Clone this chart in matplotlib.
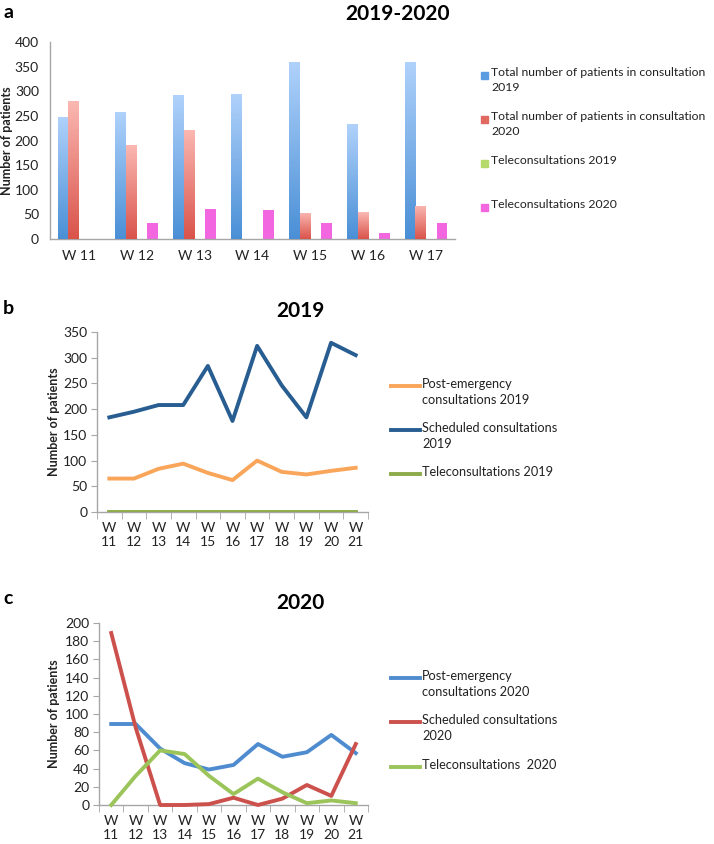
import numpy as np
import matplotlib
matplotlib.use("Agg")
import matplotlib.pyplot as plt
from matplotlib.colors import LinearSegmentedColormap
from matplotlib.patches import Rectangle
from matplotlib.lines import Line2D

plt.rcParams['font.family'] = ['Lato', 'DejaVu Sans']

# ---- data ----
weeks_a = ['W 11', 'W 12', 'W 13', 'W 14', 'W 15', 'W 16', 'W 17']
total_2019 = [248, 258, 292, 294, 360, 233, 360]
total_2020 = [280, 190, 222, 0, 53, 54, 68]
tele_2019_a = [0, 0, 0, 0, 0, 0, 0]
tele_2020_a = [0, 33, 61, 58, 33, 13, 33]

weeks_bc = ['W\n11', 'W\n12', 'W\n13', 'W\n14', 'W\n15', 'W\n16',
            'W\n17', 'W\n18', 'W\n19', 'W\n20', 'W\n21']
post_2019 = [65, 65, 84, 94, 76, 62, 100, 78, 73, 80, 86]
sched_2019 = [184, 195, 208, 208, 284, 177, 323, 246, 184, 329, 305]
tele_2019 = [0, 0, 0, 0, 0, 0, 0, 0, 0, 0, 0]

post_2020 = [89, 89, 62, 46, 39, 44, 67, 53, 58, 77, 57]
sched_2020 = [189, 85, 0, 0, 1, 8, 0, 7, 22, 10, 67]
tele_2020 = [0, 32, 60, 56, 32, 12, 29, 14, 2, 5, 2]

W, H = 714, 844
fig = plt.figure(figsize=(W / 100, H / 100), dpi=100)
spine_col = '#a6a6a6'
txt_col = '#222222'


def fx(px):
    return px / W


def fy(py):
    return 1 - py / H


def style_axes(ax):
    for s in ['top', 'right']:
        ax.spines[s].set_visible(False)
    for s in ['left', 'bottom']:
        ax.spines[s].set_color(spine_col)
        ax.spines[s].set_linewidth(1.0)
    ax.tick_params(colors=spine_col, labelcolor=txt_col, labelsize=10)


def grad_bars(ax, bars, c_bottom, c_top):
    cmap = LinearSegmentedColormap.from_list('g', [c_bottom, c_top])
    grad = np.linspace(0, 1, 256).reshape(-1, 1)
    for b in bars:
        h = b.get_height()
        if h <= 0:
            continue
        x0 = b.get_x()
        im = ax.imshow(grad, cmap=cmap, origin='lower', aspect='auto',
                       extent=[x0, x0 + b.get_width(), 0, h], zorder=3)
        im.set_clip_path(b)


# ---- panel a ----
ax1 = fig.add_axes([fx(50), fy(239), fx(455) - fx(50), fy(42) - fy(239)])
x = np.arange(len(weeks_a))
w = 0.185
b1 = ax1.bar(x - 1.5 * w, total_2019, w, color='#6fa8e6', zorder=2)
b2 = ax1.bar(x - 0.5 * w, total_2020, w, color='#ea8a82', zorder=2)
ax1.bar(x + 0.5 * w, tele_2019_a, w, color='#b5d96a', zorder=2)
ax1.bar(x + 1.5 * w, tele_2020_a, w, color='#f266e0', zorder=2)
grad_bars(ax1, b1, '#4a8fd6', '#b0d2fb')
grad_bars(ax1, b2, '#d9534a', '#fbb8b2')
ax1.set_xlim(-0.5, len(weeks_a) - 0.5)
ax1.set_ylim(0, 400)
ax1.set_yticks(range(0, 401, 50))
ax1.set_xticks(x)
ax1.set_xticklabels(weeks_a)
style_axes(ax1)
ax1.tick_params(axis='both', length=0, pad=8)
ax1.set_ylabel('Number of patients', fontsize=9, fontweight='bold', color=txt_col)
ax1.yaxis.set_label_coords(fx(13), 0.5 * (fy(239) + fy(42)), transform=fig.transFigure)

# ---- panel b ----
xb = np.arange(len(weeks_bc))
ax2 = fig.add_axes([fx(97), fy(512), fx(368) - fx(97), fy(332) - fy(512)])
ax2.plot(xb, post_2019, color='#f9a55a', lw=2.8, zorder=3)
ax2.plot(xb, sched_2019, color='#285d91', lw=2.8, zorder=3)
ax2.plot(xb, tele_2019, color='#8dab4b', lw=2.8, zorder=3)
ax2.set_ylim(0, 350)
ax2.set_yticks(range(0, 351, 50))

# ---- panel c ----
ax3 = fig.add_axes([fx(99), fy(805), fx(368) - fx(99), fy(623) - fy(805)])
ax3.plot(xb, post_2020, color='#4f8ccf', lw=2.8, zorder=3)
ax3.plot(xb, sched_2020, color='#cc514c', lw=2.8, zorder=3, clip_on=False)
ax3.plot(xb, tele_2020, color='#9bc45a', lw=2.8, zorder=3, clip_on=False)
ax3.set_ylim(0, 200)
ax3.set_yticks(range(0, 201, 20))

for ax, top, bot in ((ax2, 332, 512), (ax3, 623, 805)):
    ax.set_xlim(-0.5, len(weeks_bc) - 0.5)
    ax.set_xticks(xb)
    ax.set_xticklabels(weeks_bc, linespacing=1.2)
    ax.set_xticks(np.arange(-0.5, len(weeks_bc)), minor=True)
    style_axes(ax)
    ax.tick_params(axis='x', which='major', length=0, pad=7)
    ax.tick_params(axis='x', which='minor', length=5, color=spine_col)
    ax.tick_params(axis='y', length=4, pad=3)
    ax.set_ylabel('Number of patients', fontsize=9, fontweight='bold', color=txt_col)
    ax.yaxis.set_label_coords(fx(60), 0.5 * (fy(top) + fy(bot)), transform=fig.transFigure)

# ---- titles and panel letters ----
fig.text(fx(398), fy(14), '2019-2020', ha='center', va='center', fontsize=15, fontweight='bold', color='black')
fig.text(fx(300), fy(311), '2019', ha='center', va='center', fontsize=15, fontweight='bold', color='black')
fig.text(fx(300), fy(603), '2020', ha='center', va='center', fontsize=15, fontweight='bold', color='black')
fig.text(fx(3), fy(12), 'a', ha='left', va='center', fontsize=14, fontweight='bold')
fig.text(fx(3), fy(308), 'b', ha='left', va='center', fontsize=14, fontweight='bold')
fig.text(fx(3), fy(598), 'c', ha='left', va='center', fontsize=14, fontweight='bold')

# ---- legends (drawn in figure coords) ----
leg_fs = 9.2
leg_a = [('Total number of patients in consultation\n2019', '#5b9be0', 75),
         ('Total number of patients in consultation\n2020', '#e06a62', 119),
         ('Teleconsultations 2019', '#b5d96a', 163),
         ('Teleconsultations 2020', '#f266e0', 207)]
for lab, col, py in leg_a:
    fig.add_artist(Rectangle((fx(481), fy(py + 3.5)), fx(7), fy(0) - fy(7),
                             transform=fig.transFigure, color=col))
    fig.text(fx(491), fy(py - 8), lab, ha='left', va='top', fontsize=8.8,
             color=txt_col, linespacing=1.4)

leg_b = [('Post-emergency\nconsultations 2019', '#f9a55a', 386),
         ('Scheduled consultations\n2019', '#285d91', 430),
         ('Teleconsultations 2019', '#8dab4b', 474)]
leg_c = [('Post-emergency\nconsultations 2020', '#4f8ccf', 678),
         ('Scheduled consultations\n2020', '#cc514c', 722),
         ('Teleconsultations  2020', '#9bc45a', 767)]
for entries in (leg_b, leg_c):
    for lab, col, py in entries:
        fig.add_artist(Line2D([fx(391), fx(420)], [fy(py), fy(py)],
                              transform=fig.transFigure, color=col, lw=2.8))
        fig.text(fx(422), fy(py - 8), lab, ha='left', va='top', fontsize=leg_fs,
                 color=txt_col, linespacing=1.35)

fig.savefig('out.png', dpi=100)
